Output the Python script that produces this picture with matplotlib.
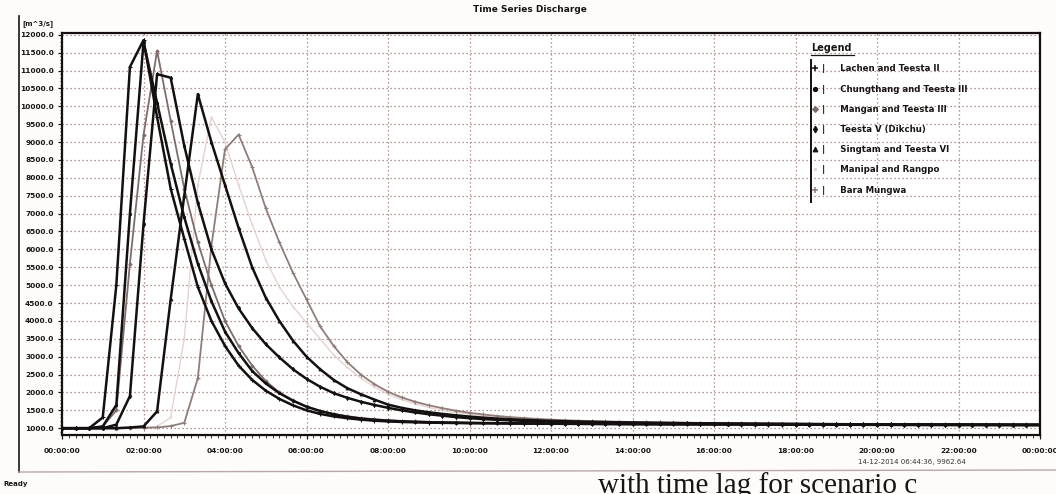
import numpy as np
import matplotlib
matplotlib.use("Agg")
import matplotlib.pyplot as plt
from matplotlib.lines import Line2D

# ---------------- data (discharge in m^3/s, one value every 20 minutes) ----------------
step_minutes = 20

series_names = [
    "Lachen and Teesta II",
    "Chungthang and Teesta III",
    "Mangan and Teesta III",
    "Teesta V (Dikchu)",
    "Singtam and Teesta VI",
    "Manipal and Rangpo",
    "Bara Mungwa",
]

lachen = [
    1000, 1000, 1000, 1300, 5000, 11100, 11850, 9700, 7700, 6300,
    4950, 4000, 3300, 2750, 2350, 2050, 1820, 1640, 1500, 1400,
    1330, 1280, 1240, 1210, 1190, 1175, 1165, 1155, 1150, 1145,
    1140, 1137, 1134, 1131, 1128, 1126, 1124, 1122, 1120, 1118,
    1116, 1114, 1112, 1110, 1109, 1108, 1107, 1106, 1105, 1104,
    1103, 1102, 1101, 1100, 1099, 1098, 1097, 1096, 1095, 1094,
    1093, 1092, 1091, 1090, 1090, 1089, 1089, 1088, 1088, 1087,
    1087, 1086, 1086,
]

chungthang = [
    1000, 1000, 1000, 1050, 1650, 7000, 11800, 10100, 8400, 6900,
    5600, 4550, 3700, 3100, 2600, 2250, 1980, 1770, 1600, 1480,
    1390, 1320, 1270, 1235, 1210, 1190, 1178, 1168, 1160, 1154,
    1149, 1145, 1141, 1138, 1135, 1132, 1129, 1127, 1125, 1123,
    1121, 1119, 1117, 1115, 1113, 1112, 1111, 1110, 1109, 1108,
    1107, 1106, 1105, 1104, 1103, 1102, 1101, 1100, 1099, 1098,
    1097, 1096, 1095, 1094, 1093, 1093, 1092, 1092, 1091, 1091,
    1090, 1090, 1089,
]

mangan = [
    1000, 1000, 1000, 1050, 1500, 5600, 9200, 11550, 9600, 7700,
    6200, 5000, 4000, 3300, 2750, 2320, 2000, 1780, 1610, 1490,
    1400, 1335, 1285, 1250, 1225, 1205, 1190, 1178, 1168, 1160,
    1154, 1149, 1145, 1141, 1138, 1135, 1132, 1129, 1127, 1125,
    1123, 1121, 1119, 1117, 1115, 1113, 1112, 1111, 1110, 1109,
    1108, 1107, 1106, 1105, 1104, 1103, 1102, 1101, 1100, 1099,
    1098, 1097, 1096, 1095, 1094, 1094, 1093, 1093, 1092, 1092,
    1091, 1091, 1090,
]

teesta_v = [
    1000, 1000, 1000, 1000, 1100, 1900, 6700, 10900, 10800, 8900,
    7300, 6000, 5050, 4350, 3800, 3350, 2980, 2650, 2380, 2160,
    1980, 1850, 1740, 1650, 1570, 1500, 1440, 1390, 1350, 1310,
    1280, 1255, 1235, 1220, 1205, 1195, 1185, 1177, 1170, 1164,
    1158, 1153, 1148, 1144, 1140, 1136, 1133, 1130, 1127, 1124,
    1122, 1120, 1118, 1116, 1114, 1112, 1110, 1108, 1107, 1106,
    1105, 1104, 1103, 1102, 1101, 1100, 1099, 1098, 1097, 1096,
    1095, 1094, 1093,
]

singtam = [
    1000, 1000, 1000, 1000, 1000, 1020, 1050, 1470, 4600, 7500,
    10340, 9000, 7800, 6600, 5500, 4650, 4000, 3450, 3000, 2650,
    2350, 2120, 1950, 1800, 1660, 1570, 1500, 1445, 1400, 1360,
    1325, 1295, 1270, 1250, 1232, 1218, 1205, 1195, 1186, 1178,
    1171, 1165, 1159, 1154, 1149, 1145, 1141, 1137, 1134, 1131,
    1128, 1125, 1123, 1121, 1119, 1117, 1115, 1113, 1111, 1110,
    1109, 1108, 1107, 1106, 1105, 1104, 1103, 1102, 1101, 1100,
    1099, 1098, 1097,
]

manipal = [
    1000, 1000, 1000, 1000, 1000, 1000, 1020, 1050, 1300, 3500,
    7800, 9700, 9000, 7800, 6700, 5700, 4950, 4400, 3950, 3500,
    3050, 2700, 2400, 2150, 1950, 1800, 1680, 1580, 1500, 1440,
    1390, 1350, 1315, 1285, 1260, 1240, 1222, 1207, 1195, 1185,
    1176, 1168, 1161, 1155, 1150, 1145, 1141, 1137, 1134, 1131,
    1128, 1125, 1123, 1121, 1119, 1117, 1115, 1113, 1112, 1111,
    1110, 1109, 1108, 1107, 1106, 1105, 1104, 1103, 1102, 1101,
    1100, 1099, 1098,
]

bara_mungwa = [
    1000, 1000, 1000, 1000, 1000, 1000, 1010, 1020, 1060, 1150,
    2400, 6100, 8800, 9210, 8300, 7150, 6200, 5350, 4600, 3850,
    3300, 2850, 2500, 2230, 2020, 1860, 1740, 1640, 1560, 1490,
    1430, 1385, 1345, 1310, 1285, 1260, 1240, 1225, 1210, 1200,
    1190, 1182, 1175, 1169, 1163, 1158, 1153, 1149, 1145, 1141,
    1138, 1135, 1132, 1129, 1127, 1125, 1123, 1121, 1119, 1117,
    1115, 1114, 1113, 1112, 1111, 1110, 1109, 1108, 1107, 1106,
    1105, 1104, 1103,
]

y_ticks = list(range(1000, 12001, 500))
x_tick_hours = list(range(0, 25, 2))
x_tick_labels = ["00:00:00", "02:00:00", "04:00:00", "06:00:00", "08:00:00",
                 "10:00:00", "12:00:00", "14:00:00", "16:00:00", "18:00:00",
                 "20:00:00", "22:00:00", "00:00:00"]

# ---------------- styles ----------------
styles = [
    dict(color="#141010", lw=1.8, marker="+", ms=3.5, mew=0.8, zorder=6),
    dict(color="#141010", lw=1.8, marker="o", ms=1.8, mew=0.5, zorder=6),
    dict(color="#7d6d6b", lw=1.3, marker="D", ms=1.8, mew=0.5, zorder=5),
    dict(color="#141010", lw=1.8, marker="d", ms=2.2, mew=0.5, zorder=6),
    dict(color="#141010", lw=1.8, marker="^", ms=2.2, mew=0.5, zorder=6),
    dict(color="#e6d2d0", lw=1.0, marker=".", ms=2.0, mew=0.4, zorder=3),
    dict(color="#8f7d7a", lw=1.3, marker="+", ms=3.2, mew=0.8, zorder=4),
]
all_series = [lachen, chungthang, mangan, teesta_v, singtam, manipal, bara_mungwa]

W, H = 1056, 494
fig = plt.figure(figsize=(W / 100, H / 100), dpi=100)
fig.patch.set_facecolor("#fdfcfb")

ax_l, ax_r, ax_t, ax_b = 62, 1040, 33, 435
ax = fig.add_axes([ax_l / W, 1 - ax_b / H, (ax_r - ax_l) / W, (ax_b - ax_t) / H])
ax.set_facecolor("white")

for name, vals, st in zip(series_names, all_series, styles):
    hours = np.arange(len(vals)) * step_minutes / 60.0
    ax.plot(hours, vals, label=name, **st)

ax.set_xlim(0, 24)
ax.set_ylim(810, 12050)

ax.set_xticks(x_tick_hours)
ax.set_xticklabels(x_tick_labels)
ax.set_xticks(np.arange(0, 24.001, 1 / 6), minor=True)
ax.set_yticks(y_ticks)
ax.set_yticklabels([f"{v:.1f}" for v in y_ticks])
ax.set_yticks(np.arange(900, 12050, 100), minor=True)

ax.tick_params(axis="both", which="major", labelsize=5.3, length=3, width=0.9,
               colors="#1a1515", pad=3)
ax.tick_params(axis="both", which="minor", length=1.8, width=0.6, colors="#1a1515")
for lbl in ax.get_xticklabels() + ax.get_yticklabels():
    lbl.set_fontweight("bold")
ax.tick_params(axis="x", which="major", pad=6)

for sp in ax.spines.values():
    sp.set_color("#141010")
    sp.set_linewidth(1.6)

ax.grid(which="major", linestyle=(0, (1, 2.2)), color="#9c6464", lw=0.9, alpha=0.9)
ax.set_axisbelow(True)

# ---------------- legend ----------------
handles = [Line2D([], [], linestyle="None", marker=st["marker"], color=st["color"],
                  ms=st["ms"] + 1.2, mew=st["mew"] + 0.3) for st in styles]
leg = ax.legend(handles, ["|     " + n for n in series_names], loc="upper left",
                bbox_to_anchor=(0.767, 0.922), frameon=False, borderpad=0,
                handlelength=0.7, handletextpad=0.5, labelspacing=1.3,
                prop=dict(size=6.2, weight="bold"), borderaxespad=0)
for txt in leg.get_texts():
    txt.set_color("#1a1515")

ax.text(0.766, 0.963, "Legend", transform=ax.transAxes, fontsize=7, fontweight="bold",
        color="#1a1515", ha="left", va="center")
ax.plot([0.766, 0.810], [0.945, 0.945], transform=ax.transAxes, color="#1a1515",
        lw=0.9, clip_on=False)
ax.plot([0.7655, 0.7655], [0.933, 0.58], transform=ax.transAxes, color="#141010",
        lw=1.4, clip_on=False)

# ---------------- surrounding texts ----------------
fig.text(530 / W, 1 - 9 / H, "Time Series Discharge", ha="center", va="center",
         fontsize=6.5, fontweight="bold", color="#1a1515")
fig.text(38 / W, 1 - 24 / H, "[m^3/s]", ha="center", va="center",
         fontsize=5, fontweight="bold", color="#1a1515")
fig.text(912 / W, 1 - 462 / H, "14-12-2014 06:44:36, 9962.64", ha="center", va="center",
         fontsize=5, color="#3a3030")
fig.text(3 / W, 1 - 484 / H, "Ready", ha="left", va="center",
         fontsize=5, fontweight="bold", color="#1a1515")
fig.text(598 / W, 1 / H, "with time lag for scenario c", ha="left", va="baseline",
         fontsize=21, family="Liberation Serif", color="#1a1515")

fig.add_artist(Line2D([19 / W, 19 / W], [1 - 16 / H, 1 - 472 / H], color="#1a1515", lw=1.2))
fig.add_artist(Line2D([19 / W, 1.0], [1 - 472 / H, 1 - 470 / H], color="#b8a8a8", lw=1.0))

fig.savefig("out.png", dpi=100, facecolor=fig.get_facecolor())
